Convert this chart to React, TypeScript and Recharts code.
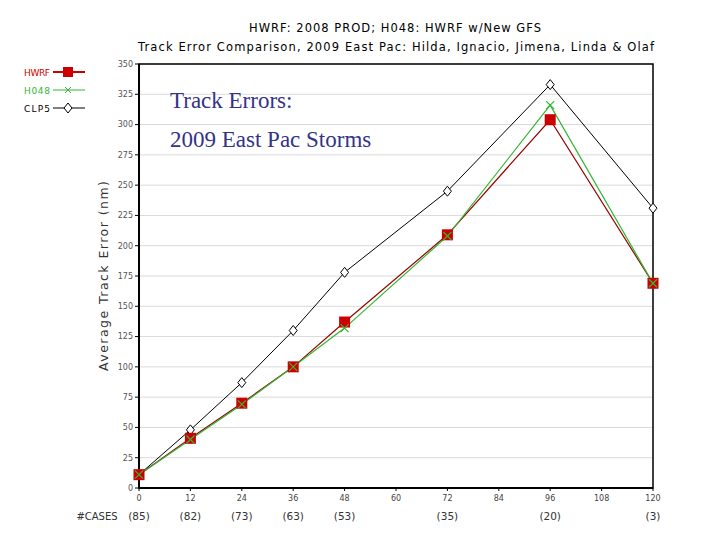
import React from 'react';
import {
  LineChart,
  Line,
  XAxis,
  YAxis,
  CartesianGrid,
  ReferenceArea,
} from 'recharts';

// forecast hours that have verifying cases
const hours = [0, 12, 24, 36, 48, 72, 96, 120];
const hwrf = [11, 41, 70, 100, 137, 209, 304, 169];
const h048 = [11, 40, 69, 100, 132, 208, 316, 169];
const clp5 = [11, 48, 87, 130, 178, 245, 333, 231];
const cases = ['(85)', '(82)', '(73)', '(63)', '(53)', '(35)', '(20)', '(3)'];

const xTicks = [0, 12, 24, 36, 48, 60, 72, 84, 96, 108, 120];
const yTicks = [0, 25, 50, 75, 100, 125, 150, 175, 200, 225, 250, 275, 300, 325, 350];

const data = hours.map((h, i) => ({
  hour: h,
  HWRF: hwrf[i],
  H048: h048[i],
  CLP5: clp5[i],
}));

const RED = '#cc0000';
const GREEN = '#33b633';
const TICK_FONT = '"DejaVu Sans", sans-serif';

const SquareDot = (p: any) => {
  if (p.cx == null || p.cy == null) return null;
  return <rect key={`s-${p.index}`} x={p.cx - 5.5} y={p.cy - 5.5} width={11} height={11} fill={RED} />;
};

const CrossDot = (p: any) => {
  if (p.cx == null || p.cy == null) return null;
  const { cx, cy } = p;
  return (
    <g key={`x-${p.index}`} stroke={GREEN} strokeWidth={1.2}>
      <line x1={cx - 4} y1={cy - 4} x2={cx + 4} y2={cy + 4} />
      <line x1={cx - 4} y1={cy + 4} x2={cx + 4} y2={cy - 4} />
    </g>
  );
};

const DiamondDot = (p: any) => {
  if (p.cx == null || p.cy == null) return null;
  const { cx, cy } = p;
  return (
    <path
      key={`d-${p.index}`}
      d={`M${cx},${cy - 5} L${cx + 4},${cy} L${cx},${cy + 5} L${cx - 4},${cy} Z`}
      fill="#fff"
      stroke="#000"
      strokeWidth={1}
    />
  );
};

const HourTick = (props: any) => {
  const { x, y, payload } = props;
  const idx = hours.indexOf(payload.value);
  return (
    <g>
      <text x={x} y={y + 8} textAnchor="middle" fontSize={8} fill="#444" fontFamily={TICK_FONT}>
        {payload.value}
      </text>
      {idx >= 0 && (
        <text x={x} y={y + 27} textAnchor="middle" fontSize={10.5} fill="#333" fontFamily={TICK_FONT}>
          {cases[idx]}
        </text>
      )}
      {payload.value === 0 && (
        <text x={x - 42} y={y + 27} textAnchor="middle" fontSize={10} fill="#333" fontFamily={TICK_FONT}>
          #CASES
        </text>
      )}
    </g>
  );
};

const legendItems = [
  { name: 'HWRF', color: RED, dot: 'square' },
  { name: 'H048', color: GREEN, dot: 'cross' },
  { name: 'CLP5', color: '#000', dot: 'diamond' },
];

export default function App() {
  return (
    <div style={{ position: 'absolute', left: 0, top: 0, width: 720, height: 540, background: '#fff' }}>
      <LineChart width={720} height={540} data={data} margin={{ top: 64, right: 67, left: 0, bottom: 0 }}>
        <CartesianGrid vertical={false} stroke="#dadada" />
        <XAxis
          dataKey="hour"
          type="number"
          domain={[0, 120]}
          ticks={xTicks}
          height={52}
          tick={<HourTick />}
          tickSize={3}
          axisLine={{ stroke: '#000', strokeWidth: 2 }}
          tickLine={{ stroke: '#000' }}
        />
        <YAxis
          type="number"
          domain={[0, 350]}
          ticks={yTicks}
          width={139}
          tickSize={4}
          tick={{ fontSize: 8, fill: '#555', fontFamily: TICK_FONT }}
          axisLine={{ stroke: '#000', strokeWidth: 2 }}
          tickLine={{ stroke: '#000' }}
        />
        <ReferenceArea x1={0} x2={120} y1={0} y2={350} fill="none" stroke="#000" strokeWidth={1.5} ifOverflow="visible" />
        <Line dataKey="CLP5" stroke="#000" strokeWidth={1} dot={DiamondDot} isAnimationActive={false} />
        <Line dataKey="HWRF" stroke="#990000" strokeWidth={1.2} dot={SquareDot} isAnimationActive={false} />
        <Line dataKey="H048" stroke={GREEN} strokeWidth={1.2} dot={CrossDot} isAnimationActive={false} />
      </LineChart>
      <svg
        width={720}
        height={540}
        style={{ position: 'absolute', left: 0, top: 0, pointerEvents: 'none' }}
      >
        <text x={395} y={32} textAnchor="middle" fontSize={11.5} fill="#000" fontFamily={TICK_FONT} textLength={292}>
          HWRF: 2008 PROD; H048: HWRF w/New GFS
        </text>
        <text x={396} y={51} textAnchor="middle" fontSize={11.5} fill="#000" fontFamily={TICK_FONT} textLength={516}>
          Track Error Comparison, 2009 East Pac: Hilda, Ignacio, Jimena, Linda &amp; Olaf
        </text>
        <text
          x={108}
          y={276}
          transform="rotate(-90 108 276)"
          textAnchor="middle"
          fontSize={12.5}
          fill="#333"
          fontFamily={TICK_FONT}
          textLength={190}
        >
          Average Track Error (nm)
        </text>
        <text x={170} y={108} fontSize={23} fill="#333388" fontFamily='"Liberation Serif", serif'>
          Track Errors:
        </text>
        <text x={170} y={147} fontSize={23} fill="#333388" fontFamily='"Liberation Serif", serif'>
          2009 East Pac Storms
        </text>
        {legendItems.map((it, i) => {
          const y = 72 + i * 18;
          return (
            <g key={it.name}>
              <text x={24} y={y + 4} fontSize={9} fill={it.color} fontFamily={TICK_FONT} textLength={26}>
                {it.name}
              </text>
              <line x1={53} y1={y} x2={85} y2={y} stroke={it.color} strokeWidth={it.dot === 'square' ? 2 : 1} />
              {it.dot === 'square' && <rect x={63} y={y - 5} width={10} height={10} fill={RED} />}
              {it.dot === 'cross' && (
                <g stroke={GREEN}>
                  <line x1={65} y1={y - 3} x2={71} y2={y + 3} />
                  <line x1={65} y1={y + 3} x2={71} y2={y - 3} />
                </g>
              )}
              {it.dot === 'diamond' && (
                <path d={`M68,${y - 5} L72,${y} L68,${y + 5} L64,${y} Z`} fill="#fff" stroke="#000" />
              )}
            </g>
          );
        })}
      </svg>
    </div>
  );
}
